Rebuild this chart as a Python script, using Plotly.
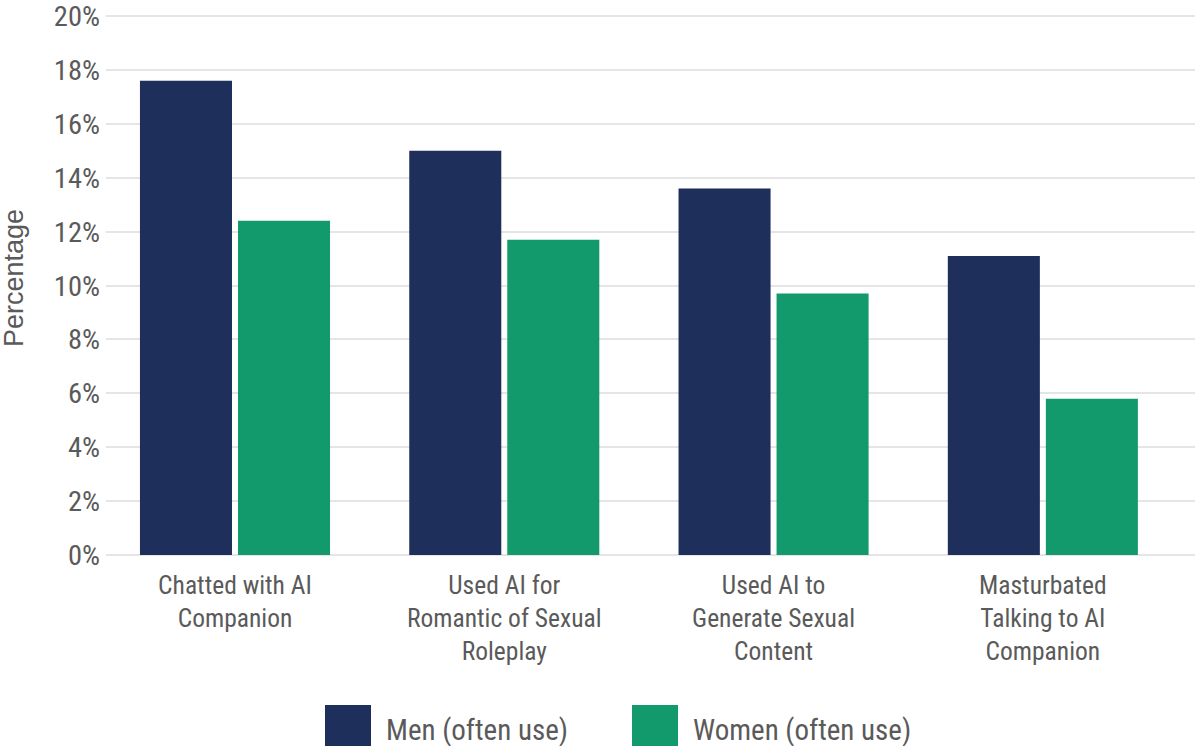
import plotly.graph_objects as go

categories = [
    "Chatted with AI<br>Companion",
    "Used AI for<br>Romantic of Sexual<br>Roleplay",
    "Used AI to<br>Generate Sexual<br>Content",
    "Masturbated<br>Talking to AI<br>Companion",
]
series_names = ["Men (often use)", "Women (often use)"]
men_values = [17.6, 15.0, 13.6, 11.1]
women_values = [12.4, 11.7, 9.7, 5.8]
y_ticks = [0, 2, 4, 6, 8, 10, 12, 14, 16, 18, 20]
y_tick_labels = [f"{v}%" for v in y_ticks]
y_title = "Percentage"

colors = ["#1d2f5a", "#139a6c"]
text_color = "#5a5a5a"
narrow = "Liberation Sans Narrow, Roboto Condensed, DejaVu Sans Condensed, sans-serif"
regular = "Liberation Sans, Arial, sans-serif"

fig = go.Figure()
for name, vals, col in zip(series_names, [men_values, women_values], colors):
    fig.add_trace(go.Bar(
        x=list(range(len(categories))), y=vals, name=name,
        marker=dict(color=col, line=dict(width=0)),
        showlegend=False,
    ))

W, H = 1195, 746
L, R, T, B = 106, 0, 15, 191
pw, ph = W - L - R, H - T - B

def px_to_paper_x(px):
    return (px - L) / pw

def py_to_paper_y(py):
    return (H - B - py) / ph

# custom legend (large swatches)
legend_pos = [(325, 371, 384), (632, 678, 691)]
for (x0, x1, tx), name, col in zip(legend_pos, series_names, colors):
    fig.add_shape(type="rect", xref="paper", yref="paper",
                  x0=px_to_paper_x(x0), x1=px_to_paper_x(x1),
                  y0=py_to_paper_y(705), y1=py_to_paper_y(760),
                  fillcolor=col, line=dict(width=0), layer="above")
    fig.add_annotation(xref="paper", yref="paper", x=px_to_paper_x(tx), y=py_to_paper_y(730),
                       text=name, showarrow=False, xanchor="left", yanchor="middle",
                       font=dict(family=narrow, size=29, color=text_color))

# y-axis title
fig.add_annotation(xref="paper", yref="paper", x=px_to_paper_x(14), y=py_to_paper_y(278),
                   text=y_title, showarrow=False, textangle=-90,
                   xanchor="center", yanchor="middle",
                   font=dict(family=regular, size=27, color=text_color))

fig.update_layout(
    width=W, height=H,
    margin=dict(l=L, r=R, t=T, b=B, pad=0),
    paper_bgcolor="white", plot_bgcolor="white",
    barmode="group", bargap=0.272, bargroupgap=0.061,
    xaxis=dict(
        tickmode="array", tickvals=list(range(len(categories))), ticktext=categories,
        range=[-0.479, 3.565], showgrid=False, zeroline=False, showline=False,
        ticks="", ticklabelstandoff=12,
        tickfont=dict(family=narrow, size=25.5, color=text_color),
    ),
    yaxis=dict(
        range=[0, 20.04], tickmode="array", tickvals=y_ticks, ticktext=y_tick_labels,
        showgrid=True, gridcolor="#e5e5e5", gridwidth=2,
        zeroline=True, zerolinecolor="#e5e5e5", zerolinewidth=2,
        showline=False, ticks="", ticklabelstandoff=5, ticklabeloverflow="allow",
        tickfont=dict(family=narrow, size=28.5, color=text_color),
    ),
)

fig.write_html("out.html", config={"displayModeBar": False},
               post_script="document.body.style.margin='0';document.body.style.overflow='hidden';")
